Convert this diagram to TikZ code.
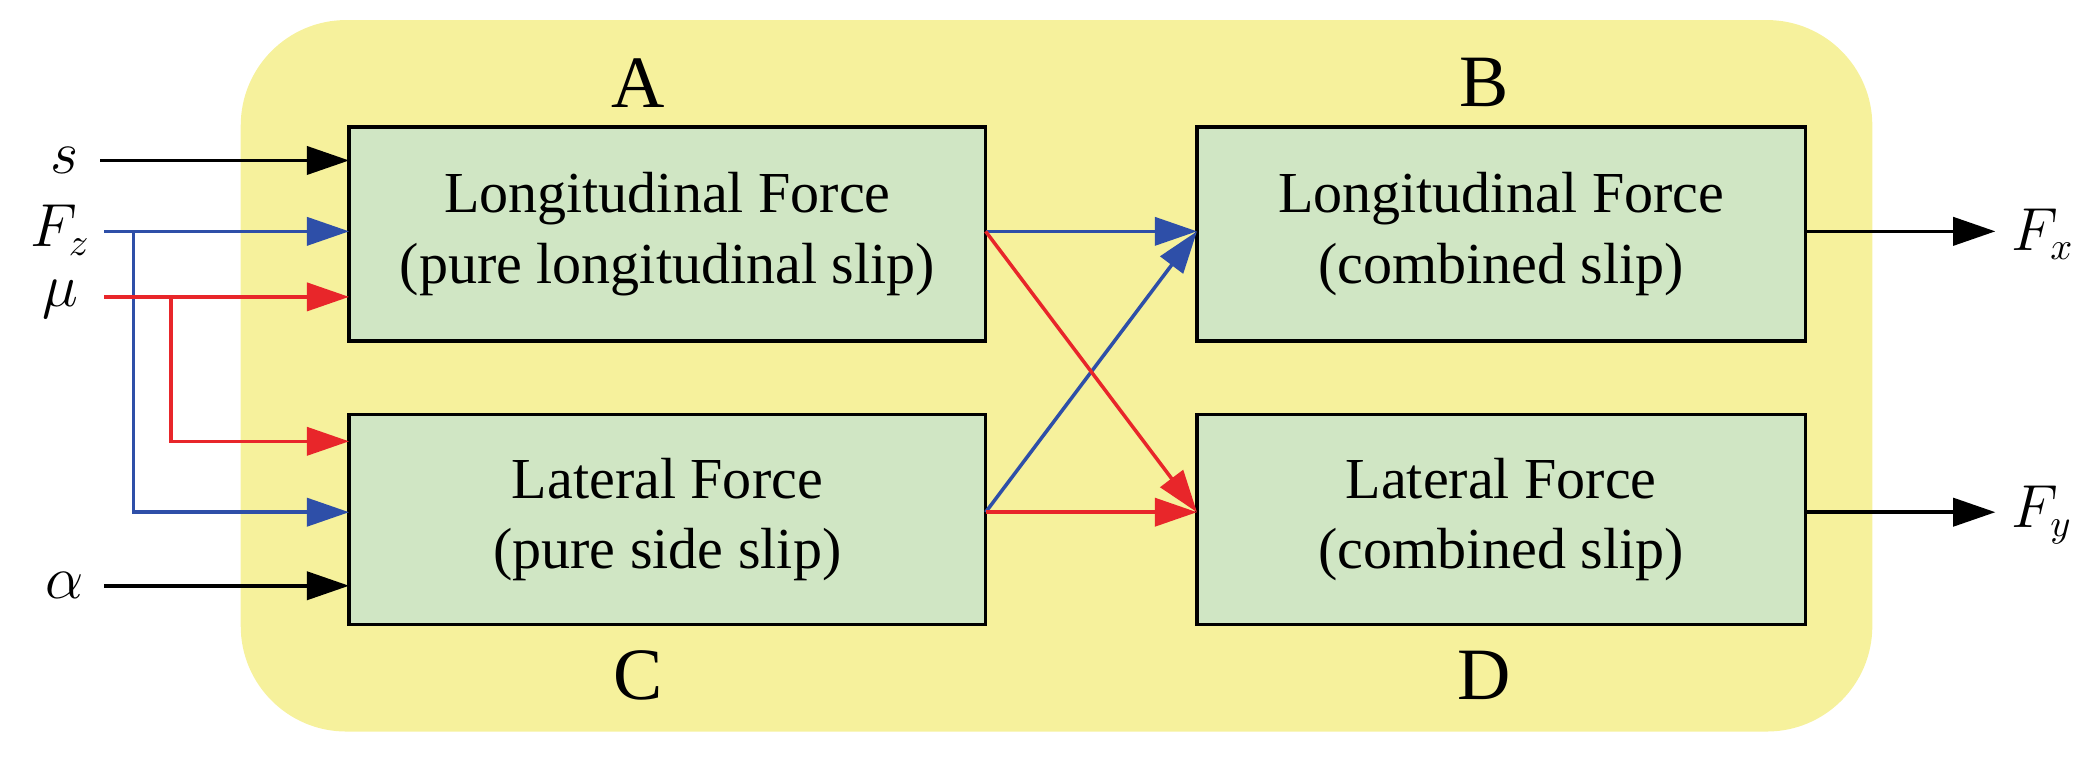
\documentclass[tikz,border=0pt]{standalone}
\usepackage{fontspec}
\setmainfont{Liberation Serif}
\usetikzlibrary{arrows.meta}
\definecolor{bg}{HTML}{F6F19C}
\definecolor{bx}{HTML}{D0E6C4}
\definecolor{bl}{HTML}{2E4FA8}
\definecolor{rd}{HTML}{E8262A}
\begin{document}
\begin{tikzpicture}[x=0.01337cm,y=-0.01337cm,
 box/.style={draw=black,line width=1pt,fill=bx,minimum width=476*0.01337cm,minimum height=160*0.01337cm,align=center,font=\fontsize{16.5}{20}\selectfont},
 lab/.style={font=\fontsize{21}{24}\selectfont},
 var/.style={font=\fontsize{16}{18}\selectfont},
 ar/.style={line width=1pt,-{Triangle[length=12pt,width=8pt]}}]
\useasboundingbox (0,0) rectangle (1568,572);
\fill[bg,rounded corners=30pt] (180,15) rectangle (1400,547);
\node[box,minimum width=476*0.01337cm] (A) at (499,175) {Longitudinal Force\\(pure longitudinal slip)};
\node[box,minimum width=476*0.01337cm,minimum height=157*0.01337cm] (C) at (499,388.5) {Lateral Force\\(pure side slip)};
\node[box,minimum width=455*0.01337cm] (B) at (1122.5,175) {Longitudinal Force\\(combined slip)};
\node[box,minimum width=455*0.01337cm,minimum height=157*0.01337cm] (D) at (1122.5,388.5) {Lateral Force\\(combined slip)};
\node[lab] (la) at (477,62) {A};
\node[lab] (lb) at (1110,62) {B};
\node[lab] (lc) at (477,505) {C};
\node[lab] (ld) at (1110,505) {D};
\node[var] (s) at (48,120) {$s$};
\node[var] (fz) at (45,172) {$F_z$};
\node[var] (mu) at (45,224) {$\mu$};
\node[var] (al) at (48,438) {$\alpha$};
\node[var,anchor=west] (fx) at (1495,175) {$F_x$};
\node[var,anchor=west] (fy) at (1495,385) {$F_y$};
\coordinate (s0) at (75,120); \coordinate (s1) at (261,120);
\coordinate (f0) at (78,173); \coordinate (f1) at (261,173);
\coordinate (m0) at (78,222); \coordinate (m1) at (261,222);
\coordinate (fb) at (100,173); \coordinate (fc) at (261,383);
\coordinate (mb) at (128,222); \coordinate (mc) at (261,330);
\coordinate (a0) at (78,438); \coordinate (a1) at (261,438);
\coordinate (Ao) at (737,173); \coordinate (Co) at (737,383);
\coordinate (Bi) at (895,173); \coordinate (Di) at (895,383);
\coordinate (Bo) at (1350,173); \coordinate (Do) at (1350,383);
\coordinate (xo) at (1492,173); \coordinate (yo) at (1492,383);
\draw[ar] (s0) -- (s1);
\draw[ar] (a0) -- (a1);
\draw[ar,bl] (f0) -- (f1);
\draw[ar,bl] (fb) |- (fc);
\draw[ar,rd] (m0) -- (m1);
\draw[ar,rd] (mb) |- (mc);
\draw[ar,bl] (Ao) -- (Bi);
\draw[ar,bl] (Co) -- (Bi);
\draw[ar,rd] (Ao) -- (Di);
\draw[ar,rd] (Co) -- (Di);
\draw[ar] (Bo) -- (xo);
\draw[ar] (Do) -- (yo);
\end{tikzpicture}
\end{document}
